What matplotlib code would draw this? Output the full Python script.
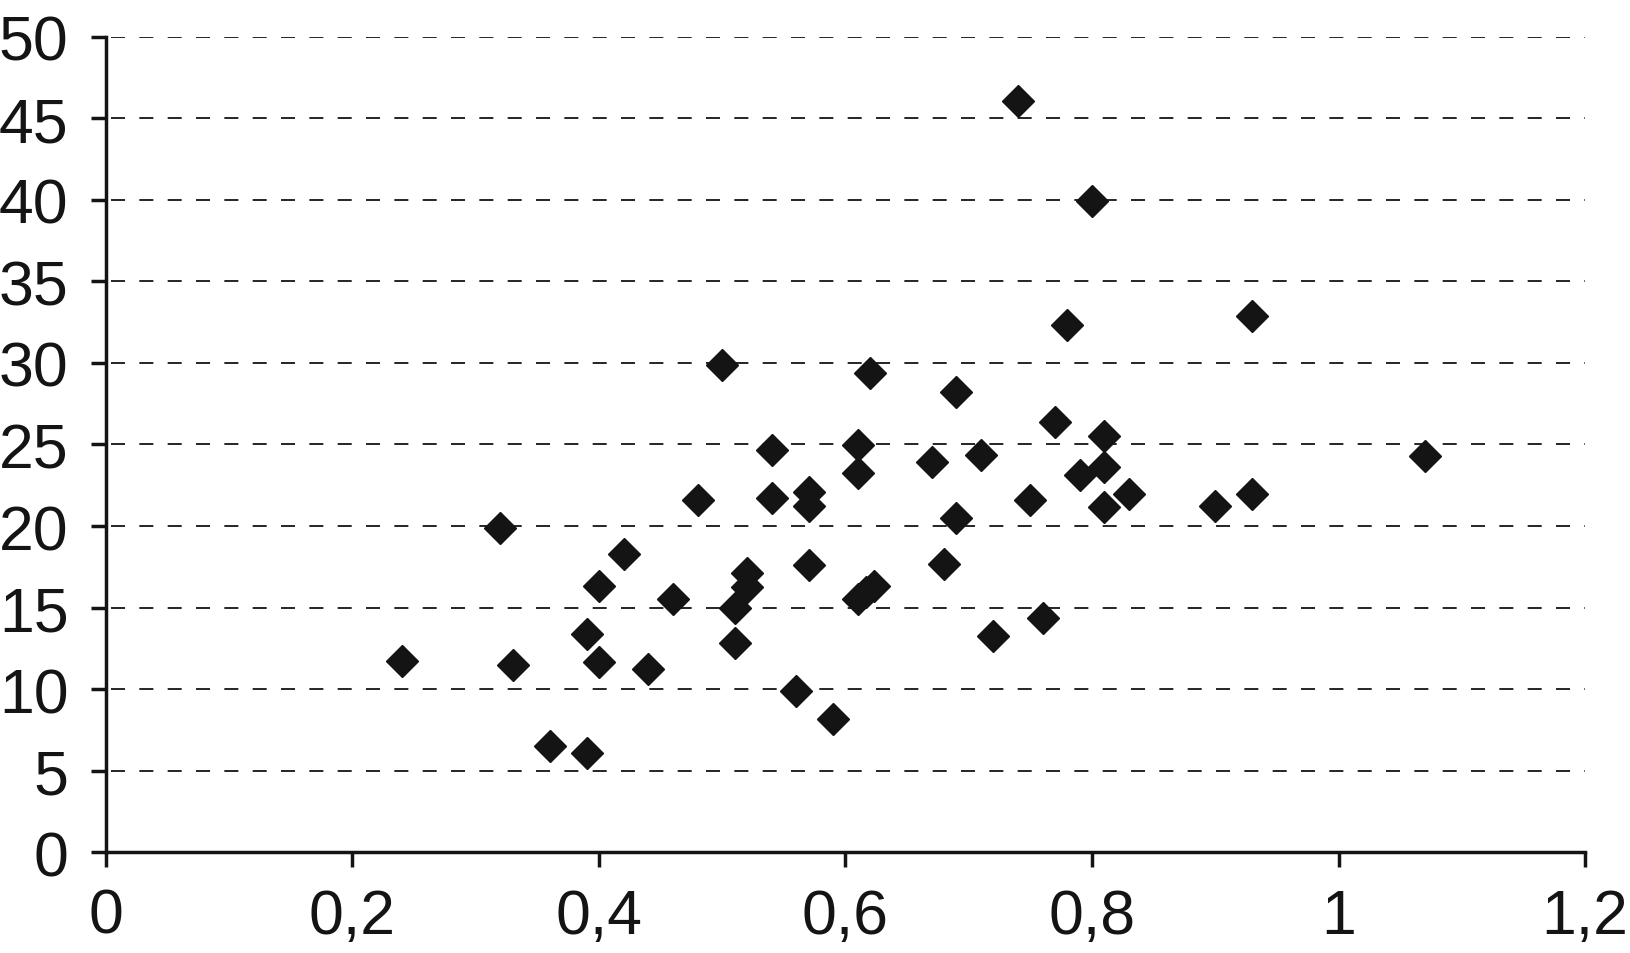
import numpy as np
import matplotlib
matplotlib.use("Agg")
import matplotlib.pyplot as plt

plt.rcParams['font.family'] = ['Liberation Sans', 'DejaVu Sans']
plt.rcParams['lines.scale_dashes'] = False

# values
x_vals = [0.24, 0.32, 0.33, 0.36, 0.39, 0.39, 0.40, 0.40, 0.42, 0.44,
          0.46, 0.48, 0.50, 0.51, 0.51, 0.52, 0.52, 0.54, 0.54, 0.56,
          0.57, 0.57, 0.57, 0.59, 0.61, 0.61, 0.61, 0.617, 0.623, 0.62,
          0.67, 0.69, 0.68, 0.69, 0.71, 0.72, 0.74, 0.75, 0.76, 0.77,
          0.78, 0.79, 0.80, 0.81, 0.81, 0.81, 0.83, 0.90, 0.93, 0.93,
          1.07]
y_vals = [11.7, 19.9, 11.5, 6.5, 6.1, 13.35, 16.35, 11.65, 18.3, 11.25,
          15.5, 21.6, 29.85, 14.95, 12.8, 17.1, 16.25, 24.65, 21.7, 9.9,
          22.1, 21.25, 17.6, 8.2, 24.95, 23.25, 15.55, 15.95, 16.35, 29.4,
          23.95, 28.2, 17.65, 20.5, 24.35, 13.25, 46.05, 21.6, 14.35, 26.35,
          32.35, 23.15, 39.9, 23.6, 25.5, 21.15, 21.95, 21.25, 32.85, 21.95,
          24.3]

x_ticks = [0, 0.2, 0.4, 0.6, 0.8, 1, 1.2]
x_labels = ["0", "0,2", "0,4", "0,6", "0,8", "1", "1,2"]
y_ticks = [0, 5, 10, 15, 20, 25, 30, 35, 40, 45, 50]

fig = plt.figure(figsize=(16.3, 9.54), dpi=100)
ax = fig.add_axes([0.065, 0.1056, 0.9074, 0.8549])

ax.plot(x_vals, y_vals, linestyle="none", marker="D", markersize=16,
        color="#141414", markeredgewidth=1, zorder=3, clip_on=False)

ax.set_xlim(0, 1.2)
ax.set_ylim(0, 50)
ax.set_xticks(x_ticks)
ax.set_xticklabels(x_labels)
ax.set_yticks(y_ticks)

for s in ["top", "right"]:
    ax.spines[s].set_visible(False)
for s in ["left", "bottom"]:
    ax.spines[s].set_linewidth(2.5)
    ax.spines[s].set_color("#141414")

ax.tick_params(axis="both", direction="out", length=11, width=2.5,
               color="#141414", labelsize=45, labelcolor="#141414")
ax.tick_params(axis="y", pad=16)
ax.tick_params(axis="x", pad=14)

ax.set_axisbelow(True)
ax.grid(axis="y", color="#141414", linewidth=1.3,
        linestyle=(16.8, (10.1, 10.3)))

fig.savefig("out.png", dpi=100)
